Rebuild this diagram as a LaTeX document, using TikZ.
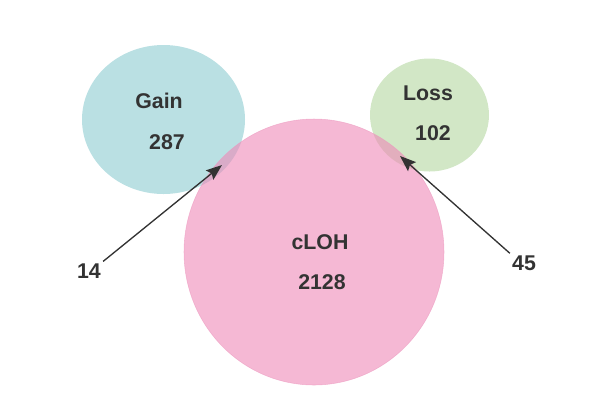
\documentclass[tikz,border=0pt]{standalone}
\usepackage{fontspec}
\setmainfont{Liberation Sans}
\usepackage{tikz}
\usetikzlibrary{shapes.geometric,arrows.meta}
\definecolor{gaincol}{RGB}{140,203,208}
\definecolor{losscol}{RGB}{180,215,160}
\definecolor{clohcol}{RGB}{238,137,183}
\definecolor{clohline}{RGB}{236,150,190}
\definecolor{txtcol}{RGB}{51,51,51}
\tikzstyle{setcircle} = [ellipse, inner sep=0pt, fill opacity=0.6, draw opacity=0.6]
\tikzstyle{setlabel} = [text=txtcol, font=\fontsize{16}{18}\selectfont\bfseries]
\tikzstyle{pointer} = [line width=1pt, draw=txtcol, fill=txtcol, arrows={-Stealth[length=12pt,width=9pt,inset=2pt]}]

\begin{document}
\begin{tikzpicture}[x=0.75pt,y=-0.75pt]
	\useasboundingbox (0,0) rectangle (600,405);
	\node[setcircle, fill=gaincol, minimum width=122.25pt, minimum height=111.75pt](gain) at (163.5,119.5){};
	\node[setcircle, fill=losscol, minimum width=89.25pt, minimum height=84.75pt](loss) at (429.5,115){};
	\node[setcircle, fill=clohcol, draw=clohline, minimum width=195pt, minimum height=199.5pt](cloh) at (314,252){};
	\node[setlabel](gainname) at (159,101){Gain};
	\node[setlabel](gainnum) at (167,142){287};
	\node[setlabel](lossname) at (428,93){Loss};
	\node[setlabel](lossnum) at (433,133){102};
	\node[setlabel](clohname) at (320,242){cLOH};
	\node[setlabel](clohnum) at (322,282){2128};
	\node[setlabel, inner sep=1.5pt](both1) at (89,271){14};
	\node[setlabel, inner sep=1.5pt](both2) at (524,263){45};
	\coordinate (gaincut) at (222,165);
	\coordinate (losscut) at (400,156);
	\draw[pointer] (both1.north east) -- (gaincut);
	\draw[pointer] (both2.north west) -- (losscut);
\end{tikzpicture}
\end{document}
